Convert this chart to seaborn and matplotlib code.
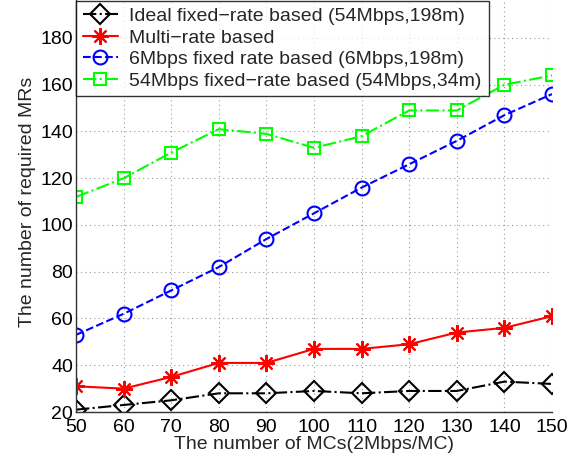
import matplotlib
matplotlib.use("Agg")
import matplotlib.pyplot as plt
import seaborn as sns
import pandas as pd

mcs = [50, 60, 70, 80, 90, 100, 110, 120, 130, 140, 150]
ideal = [21, 23, 25, 28, 28, 29, 28, 29, 29, 33, 32]
multi = [31, 30, 35, 41, 41, 47, 47, 49, 54, 56, 61]
fixed6 = [53, 62, 72, 82, 94, 105, 116, 126, 136, 147, 156]
fixed54 = [112, 120, 131, 141, 139, 133, 138, 149, 149, 160, 164]
labels = ["Ideal fixed\u2212rate based (54Mbps,198m)",
          "Multi\u2212rate based",
          "6Mbps fixed rate based (6Mbps,198m)",
          "54Mbps fixed\u2212rate based (54Mbps,34m)"]
xticks = [50, 60, 70, 80, 90, 100, 110, 120, 130, 140, 150]
yticks = [20, 40, 60, 80, 100, 120, 140, 160, 180]

sns.set_style("white")
plt.rcParams['font.family'] = ['Liberation Sans', 'DejaVu Sans']
plt.rcParams['font.size'] = 14

fig = plt.figure(figsize=(5.79, 4.61), dpi=100)
ax = fig.add_axes([76/579, 49/461, (552-76)/579, (412+8.75)/461])

styles = [
    (ideal, "black", "-.", "D", 10, "none"),
    (multi, "#ff0000", "-", (8, 2, 0), 12, None),
    (fixed6, "#0000ff", "--", "o", 10, "none"),
    (fixed54, "#00ff00", "-.", "s", 9, "none"),
]
for (vals, col, ls, mk, ms, fc), lab in zip(styles, labels):
    df = pd.DataFrame({"x": mcs, "y": vals})
    kw = dict(markerfacecolor=fc) if fc else {}
    sns.lineplot(data=df, x="x", y="y", ax=ax, color=col, linestyle=ls,
                 marker=mk, markersize=ms, markeredgecolor=col,
                 markeredgewidth=1.5, linewidth=1.5, label=lab, **kw)

ax.set_xlim(50, 150)
ax.set_ylim(20, 200)
ax.set_xticks(xticks)
ax.set_yticks(yticks)
ax.grid(True, linestyle=(0, (1, 3)), color="#999999", linewidth=0.8)
ax.tick_params(direction="in", length=4, labelsize=14, colors="black")
ax.tick_params(axis="x", pad=5)
ax.tick_params(axis="y", pad=2)
for s in ["top", "right"]:
    ax.spines[s].set_visible(False)
for s in ["left", "bottom"]:
    ax.spines[s].set_color("#333333")
    ax.spines[s].set_linewidth(1.0)
ax.set_xlabel("The number of MCs(2Mbps/MC)", fontsize=14, labelpad=0)
ax.set_ylabel("The number of required MRs", fontsize=14, labelpad=3)

leg = ax.legend(loc="lower left", bbox_to_anchor=(50, 155.0),
                bbox_transform=ax.transData, borderaxespad=0, fontsize=14,
                frameon=True, fancybox=False, edgecolor="black",
                handlelength=1.8, handletextpad=0.6, labelspacing=0.2,
                borderpad=0.35)
leg.get_frame().set_linewidth(1.0)

fig.savefig("out.png", dpi=100)
